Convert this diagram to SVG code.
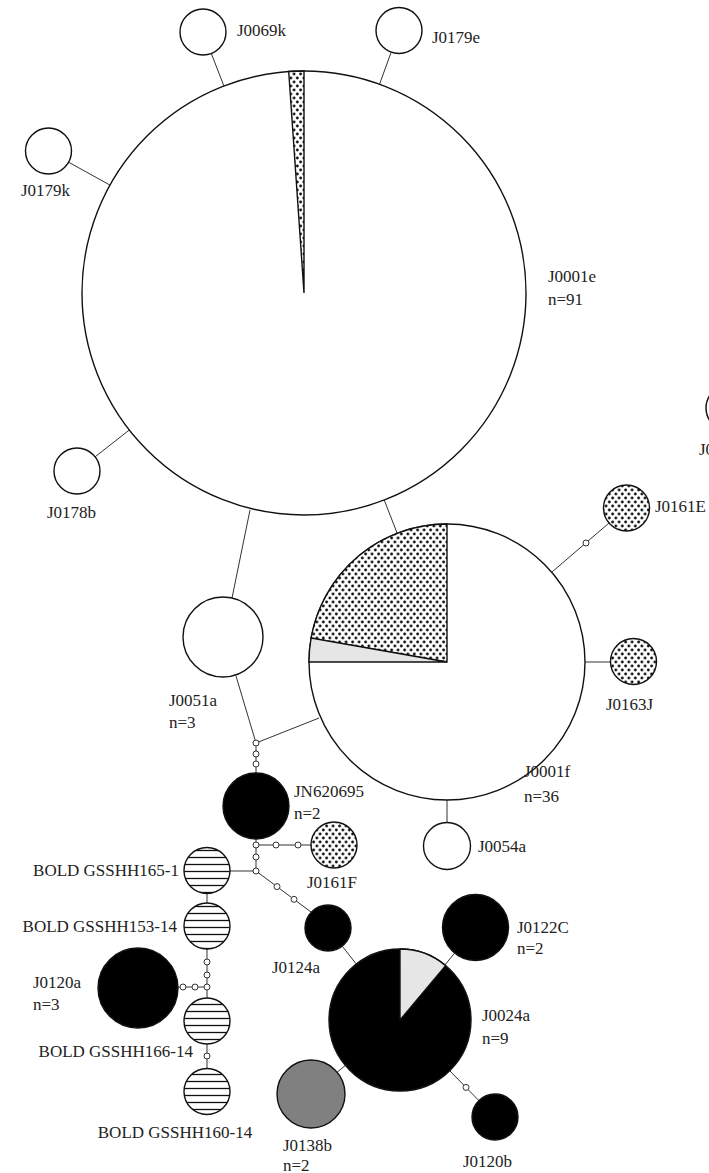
<svg xmlns="http://www.w3.org/2000/svg" width="709" height="1173" viewBox="0 0 709 1173">
<style>
.n{stroke:#111;stroke-width:1.4}
.w{fill:#fff}
.b{fill:#000}
.g{fill:#808080}
.lg{fill:#e6e6e6}
.d{fill:url(#dots)}
.h{fill:url(#hatch)}
.c line{stroke:#333;stroke-width:1;fill:none}
.s{fill:#fff;stroke:#333;stroke-width:1}
text{font-family:'Liberation Serif','Times New Roman',serif;font-size:17px;fill:#222}
</style>
<defs>
<pattern id="dots" width="6.5" height="8" patternUnits="userSpaceOnUse"><rect width="6.5" height="8" fill="#fff"/><circle cx="1.6" cy="2" r="1.4" fill="#111"/><circle cx="4.85" cy="6" r="1.4" fill="#111"/></pattern>
<pattern id="hatch" width="10" height="7" patternUnits="userSpaceOnUse"><rect width="10" height="7" fill="#fff"/><line x1="0" y1="3.5" x2="10" y2="3.5" stroke="#111" stroke-width="1.3"/></pattern>
</defs>
<rect width="709" height="1173" fill="#fff"/>
<g id="connectors" class="c">
<line x1="211.3" y1="53.5" x2="223.9" y2="85.9"/>
<line x1="391.2" y1="52.1" x2="379.5" y2="84.3"/>
<line x1="68.6" y1="162.2" x2="110" y2="185.1"/>
<line x1="95.1" y1="456.8" x2="129.3" y2="430"/>
<line x1="250" y1="510" x2="232" y2="598"/>
<line x1="384.2" y1="499.9" x2="397.2" y2="533.4"/>
<line x1="552" y1="572" x2="609" y2="523"/>
<line x1="585" y1="662" x2="610.5" y2="662"/>
<line x1="447" y1="800" x2="447" y2="822.5"/>
<line x1="236" y1="676" x2="256" y2="743"/>
<line x1="319" y1="718" x2="256" y2="743"/>
<line x1="256" y1="743" x2="256" y2="773"/>
<line x1="256" y1="839" x2="256" y2="871"/>
<line x1="256" y1="845" x2="311" y2="845"/>
<line x1="230" y1="871" x2="256" y2="871"/>
<line x1="256" y1="871" x2="311" y2="912"/>
<line x1="207" y1="893.5" x2="207" y2="903"/>
<line x1="207" y1="949" x2="207" y2="998"/>
<line x1="178" y1="987" x2="207" y2="987"/>
<line x1="207" y1="1044" x2="207" y2="1068"/>
<line x1="342.2" y1="946.1" x2="356.3" y2="964.1"/>
<line x1="454.6" y1="953.1" x2="444.9" y2="965"/>
<line x1="337.1" y1="1072.3" x2="345.4" y2="1065.4"/>
<line x1="478.9" y1="1100.6" x2="449.7" y2="1070.7"/>
<circle class="s" cx="586" cy="543" r="3"/>
<circle class="s" cx="256" cy="743" r="3"/>
<circle class="s" cx="256" cy="754" r="3"/>
<circle class="s" cx="256" cy="764" r="3"/>
<circle class="s" cx="256" cy="845" r="3"/>
<circle class="s" cx="256" cy="857" r="3"/>
<circle class="s" cx="256" cy="871" r="3"/>
<circle class="s" cx="276" cy="845" r="3"/>
<circle class="s" cx="298" cy="845" r="3"/>
<circle class="s" cx="277" cy="886.6" r="3"/>
<circle class="s" cx="294" cy="899.3" r="3"/>
<circle class="s" cx="207" cy="962" r="3"/>
<circle class="s" cx="207" cy="975" r="3"/>
<circle class="s" cx="207" cy="987" r="3"/>
<circle class="s" cx="195" cy="987" r="3"/>
<circle class="s" cx="183" cy="987" r="3"/>
<circle class="s" cx="207" cy="1056" r="3"/>
<circle class="s" cx="466" cy="1087.4" r="3"/>
</g>
<g font-family="Liberation Serif, Times New Roman, serif" font-size="17">
<g id="J0001e">
<circle class="n w" cx="304" cy="293" r="222"/>
<path class="n d" d="M304,293 L304,71 A222,222 0 0 0 288.7,71.5 Z"/>
<text x="548" y="282">J0001e</text>
<text x="548" y="305">n=91</text>
</g>
<g id="J0069k"><circle class="n w" cx="203" cy="32" r="23"/><text x="237" y="36">J0069k</text></g>
<g id="J0179e"><circle class="n w" cx="399" cy="30.5" r="23"/><text x="432" y="43">J0179e</text></g>
<g id="J0179k"><circle class="n w" cx="48.5" cy="151" r="23"/><text x="21" y="196">J0179k</text></g>
<g id="J0178b"><circle class="n w" cx="77" cy="471" r="23"/><text x="47" y="518">J0178b</text></g>
<g id="J0edge"><circle class="n w" cx="729" cy="408" r="23"/><text x="699" y="455">J0</text></g>
<g id="J0161E"><circle class="n d" cx="626.5" cy="508" r="23"/><text x="655" y="512">J0161E</text></g>
<g id="J0163J"><circle class="n d" cx="633.5" cy="661.5" r="23"/><text x="606" y="710">J0163J</text></g>
<g id="J0001f">
<circle class="n w" cx="447" cy="662" r="138"/>
<path class="n d" d="M447,662 L447,524 A138,138 0 0 0 311.1,638 Z"/>
<path class="n lg" d="M447,662 L311.1,638 A138,138 0 0 0 309,662 Z"/>
<text x="524" y="777">J0001f</text>
<text x="524" y="802">n=36</text>
</g>
<g id="J0054a"><circle class="n w" cx="447" cy="846" r="23.5"/><text x="478" y="852">J0054a</text></g>
<g id="J0051a"><circle class="n w" cx="223" cy="637" r="40"/><text x="169" y="706">J0051a</text><text x="169" y="728">n=3</text></g>
<g id="JN620695"><circle class="n b" cx="256" cy="806" r="33"/><text x="294" y="797">JN620695</text><text x="294" y="819">n=2</text></g>
<g id="J0161F"><circle class="n d" cx="334" cy="845" r="23"/><text x="307" y="888">J0161F</text></g>
<g id="BOLD_GSSHH165-1"><circle class="n h" cx="207" cy="870.5" r="23"/><text x="179" y="876" text-anchor="end">BOLD GSSHH165-1</text></g>
<g id="BOLD_GSSHH153-14"><circle class="n h" cx="207" cy="926" r="23"/><text x="177" y="932" text-anchor="end">BOLD GSSHH153-14</text></g>
<g id="J0120a"><circle class="n b" cx="138" cy="988" r="40"/><text x="33" y="988">J0120a</text><text x="33" y="1010">n=3</text></g>
<g id="BOLD_GSSHH166-14"><circle class="n h" cx="207" cy="1021" r="23"/><text x="193" y="1057" text-anchor="end">BOLD GSSHH166-14</text></g>
<g id="BOLD_GSSHH160-14"><circle class="n h" cx="207" cy="1091.5" r="23"/><text x="175" y="1138" text-anchor="middle">BOLD GSSHH160-14</text></g>
<g id="J0124a"><circle class="n b" cx="328" cy="928" r="23"/><text x="272" y="973">J0124a</text></g>
<g id="J0122C"><circle class="n b" cx="475.5" cy="927.5" r="33"/><text x="517" y="933">J0122C</text><text x="517" y="954">n=2</text></g>
<g id="J0024a">
<circle class="n b" cx="400" cy="1020" r="71"/>
<path class="n lg" d="M400,1020 L400,949 A71,71 0 0 1 445.6,965.6 Z"/>
<text x="482" y="1021">J0024a</text>
<text x="482" y="1044">n=9</text>
</g>
<g id="J0138b"><circle class="n g" cx="311" cy="1094" r="34"/><text x="283" y="1151">J0138b</text><text x="283" y="1171">n=2</text></g>
<g id="J0120b"><circle class="n b" cx="495" cy="1117" r="23"/><text x="463" y="1167">J0120b</text></g>
</g>
</svg>
